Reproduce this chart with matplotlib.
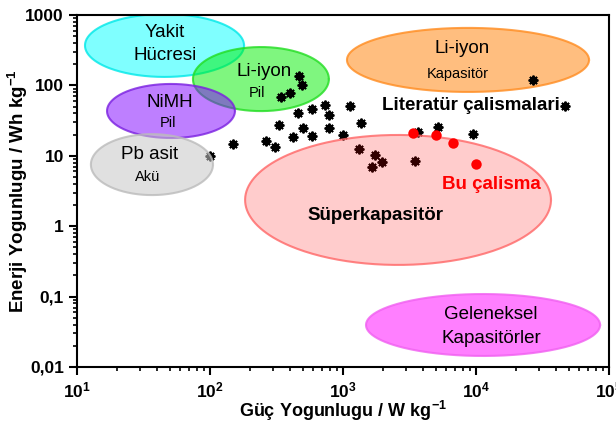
import numpy as np
import matplotlib
matplotlib.use("Agg")
import matplotlib.pyplot as plt
from matplotlib.ticker import FixedLocator, FixedFormatter, LogLocator, NullFormatter

plt.rcParams['font.family'] = ['Liberation Sans', 'DejaVu Sans']
plt.rcParams['mathtext.fontset'] = 'custom'
plt.rcParams['mathtext.rm'] = 'Liberation Sans'
plt.rcParams['mathtext.bf'] = 'Liberation Sans:bold'

# Literature data (power density W/kg, energy density Wh/kg)
lit_power = [100, 149, 264, 308, 330, 342, 400, 421, 459, 467, 492, 500, 585, 585,
             733, 785, 785, 1000, 1129, 1319, 1366, 1652, 1741, 1965, 3477, 3663,
             5178, 9484, 26840, 46700]
lit_energy = [9.9, 14.7, 16.2, 13.3, 27.4, 68, 78, 18.5, 40.6, 136, 101, 24.8, 46, 19.1,
              52.7, 38, 24.8, 19.7, 51, 12.5, 29, 6.9, 10.3, 8.2, 8.4, 21.8,
              25.7, 20.4, 119, 51]

# This work
this_power = [3360, 5000, 6714, 10000]
this_energy = [21.1, 19.7, 15.2, 7.7]

# Regions: name, center power, center energy, half-width (decades), half-height (decades), face, edge, alpha, z
regions = [
    ("Yakit Hücresi", 45.5, 369, 0.598, 0.447, '#00FFFF', '#00E8E8', 0.5, 1),
    ("Li-iyon Pil", 241.5, 123, 0.511, 0.455, '#00EE00', '#22DD22', 0.5, 2),
    ("NiMH Pil", 50.9, 43.3, 0.481, 0.384, '#7F00FF', '#7A20E0', 0.5, 3),
    ("Pb asit Akü", 36.6, 7.5, 0.459, 0.433, '#C8C8C8', '#BBBBBB', 0.55, 6),
    ("Li-iyon Kapasitör", 8710, 230, 0.910, 0.455, '#FF7F00', '#FF8C20', 0.5, 2),
    ("Süperkapasitör", 2594, 2.36, 1.150, 0.923, '#FF0000', '#FF6666', 0.2, 6),
    ("Geleneksel Kapasitörler", 11300, 0.0395, 0.880, 0.440, '#FF00FF', '#F060F0', 0.5, 2),
]

fig = plt.figure(figsize=(6.16, 4.26), dpi=100)
ax = fig.add_axes([0.125, 0.1385, 0.8636, 0.8263])
ax.set_xscale('log')
ax.set_yscale('log')
ax.set_xlim(10, 1e5)
ax.set_ylim(0.01, 1000)

t = np.linspace(0, 2 * np.pi, 300)
for name, cx, cy, a, b, fc, ec, al, z in regions:
    xs = 10 ** (np.log10(cx) + a * np.cos(t))
    ys = 10 ** (np.log10(cy) + b * np.sin(t))
    ax.fill(xs, ys, facecolor=fc, alpha=al, edgecolor='none', zorder=z)
    ax.plot(xs, ys, color=ec, lw=1.5, alpha=0.8, zorder=z)

ax.plot(lit_power, lit_energy, linestyle='none', marker=(8, 2, 0), ms=7, mew=1.4,
        color='black', zorder=4)
ax.plot(this_power, this_energy, linestyle='none', marker='o', ms=7.5,
        color='#FF0000', mec='none', zorder=8)

big = 13.5
small = 10.5
bold = 13.5
ax.text(45.9, 573, 'Yakit', ha='center', va='center', fontsize=big, zorder=9)
ax.text(45.9, 270, 'Hücresi', ha='center', va='center', fontsize=big, zorder=9)
ax.text(255, 155, 'Li-iyon', ha='center', va='center', fontsize=big, zorder=9)
ax.text(226, 78, 'Pil', ha='center', va='center', fontsize=small, zorder=9)
ax.text(50, 58, 'NiMH', ha='center', va='center', fontsize=big, zorder=9)
ax.text(48.3, 29.2, 'Pil', ha='center', va='center', fontsize=small, zorder=9)
ax.text(35.4, 10.3, 'Pb asit', ha='center', va='center', fontsize=big, zorder=9)
ax.text(34.2, 5.0, 'Akü', ha='center', va='center', fontsize=small, zorder=9)
ax.text(7850, 329, 'Li-iyon', ha='center', va='center', fontsize=big, zorder=9)
ax.text(7330, 145, 'Kapasitör', ha='center', va='center', fontsize=small, zorder=9)
ax.text(9160, 51, 'Literatür çalismalari', ha='center', va='center', fontsize=bold,
        fontweight='bold', zorder=9)
ax.text(12970, 3.85, 'Bu çalisma', ha='center', va='center', fontsize=bold,
        fontweight='bold', color='#FF0000', zorder=9)
ax.text(1770, 1.40, 'Süperkapasitör', ha='center', va='center', fontsize=bold,
        fontweight='bold', zorder=9)
ax.text(12970, 0.0548, 'Geleneksel', ha='center', va='center', fontsize=big, zorder=9)
ax.text(12970, 0.0258, 'Kapasitörler', ha='center', va='center', fontsize=big, zorder=9)

# ticks
xt = [10, 100, 1000, 10000, 100000]
xl = [r'$\mathbf{10^{%d}}$' % e for e in range(1, 6)]
yt = [0.01, 0.1, 1, 10, 100, 1000]
yl = ['0,01', '0,1', '1', '10', '100', '1000']
ax.xaxis.set_major_locator(FixedLocator(xt))
ax.xaxis.set_major_formatter(FixedFormatter(xl))
ax.yaxis.set_major_locator(FixedLocator(yt))
ax.yaxis.set_major_formatter(FixedFormatter(yl))
ax.xaxis.set_minor_locator(LogLocator(base=10, subs=np.arange(2, 10), numticks=20))
ax.yaxis.set_minor_locator(LogLocator(base=10, subs=np.arange(2, 10), numticks=20))
ax.xaxis.set_minor_formatter(NullFormatter())
ax.yaxis.set_minor_formatter(NullFormatter())
ax.tick_params(which='major', direction='out', length=6, width=1.5, labelsize=12.5)
ax.tick_params(which='minor', direction='out', length=3, width=1.2)
for lab in ax.get_yticklabels():
    lab.set_fontweight('bold')
for s in ax.spines.values():
    s.set_linewidth(1.5)

ax.set_xlabel('Güç Yogunlugu / W kg' + r'$^{\mathbf{-1}}$', fontsize=13,
              fontweight='bold')
ax.set_ylabel('Enerji Yogunlugu / Wh kg' + r'$^{\mathbf{-1}}$', fontsize=13.5,
              fontweight='bold')
ax.yaxis.set_label_coords(-0.088, 0.5)
ax.xaxis.set_label_coords(0.5, -0.092)

fig.savefig('out.png', dpi=100)
